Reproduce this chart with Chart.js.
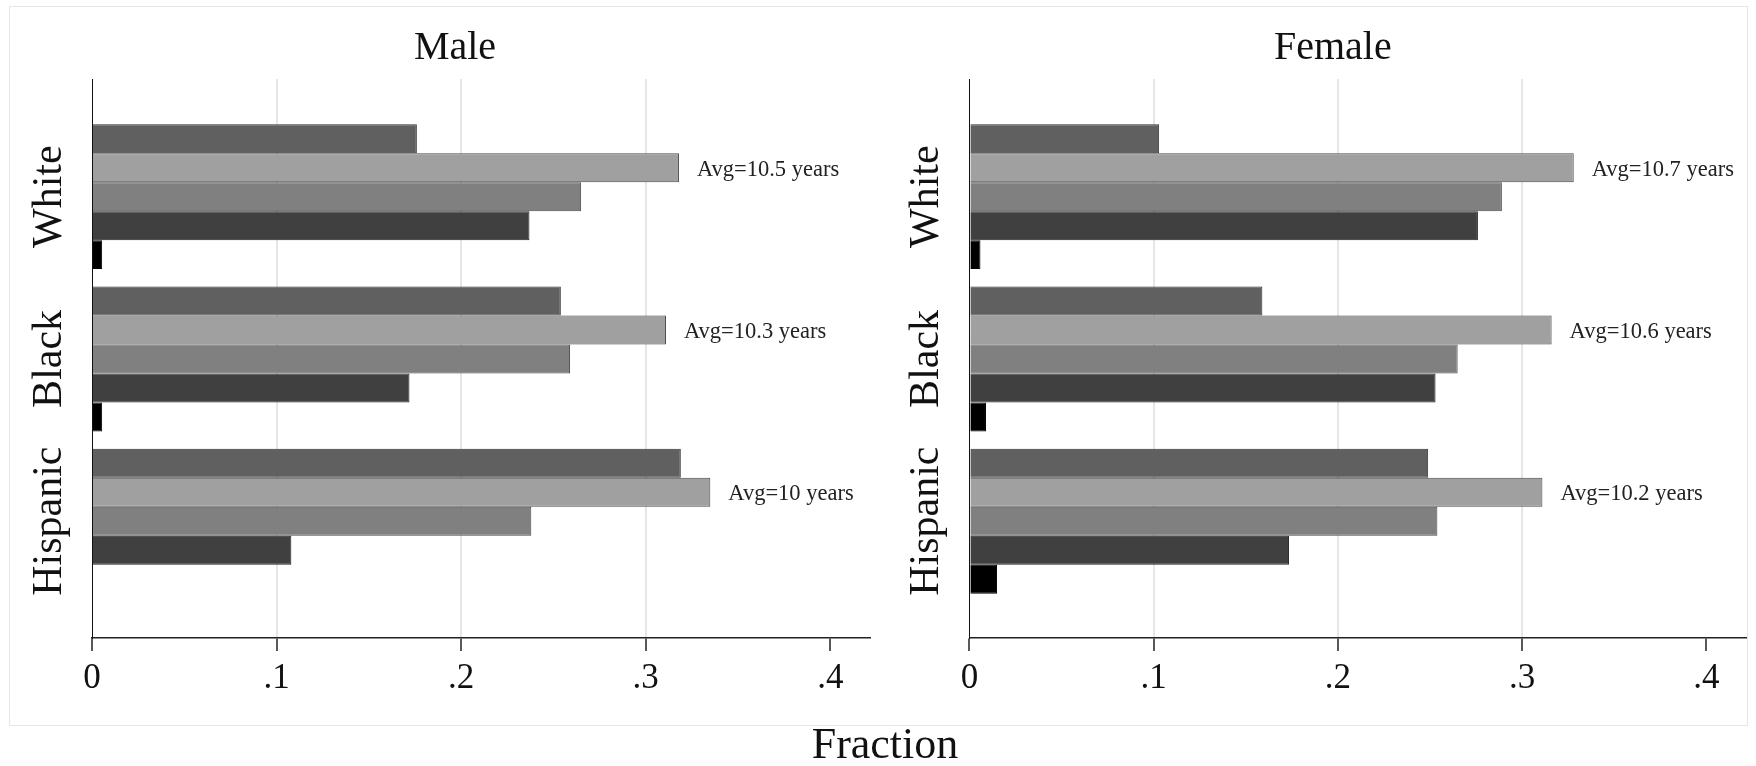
<!DOCTYPE html>
<html><head><meta charset="utf-8">
<script src="https://cdn.jsdelivr.net/npm/chart.js@4.4.1/dist/chart.umd.min.js"></script>
<style>
html,body{margin:0;padding:0;background:#fff;}
body{width:1756px;height:766px;position:relative;overflow:hidden;font-family:'Liberation Serif',serif;}
#frame{position:absolute;left:9px;top:6px;width:1737px;height:718px;border:1px solid #e6e6e6;}
canvas{position:absolute;top:0;}
#c1{left:0;} #c2{left:878px;}
#xtitle{position:absolute;left:685px;width:400px;text-align:center;top:722px;font-size:44px;line-height:44px;color:#111;}
</style></head><body>
<div id="frame"></div>
<canvas id="c1" width="880" height="766"></canvas>
<canvas id="c2" width="878" height="766"></canvas>
<div id="xtitle">Fraction</div>
<script>
// ---- data ----
const categories = ['White', 'Black', 'Hispanic'];
const categoryPositions = [0, 1, 2];
const panelTitles = ['Male', 'Female'];
const xTickValues = [0, 0.1, 0.2, 0.3, 0.4];
const xTickLabels = ['0', '.1', '.2', '.3', '.4'];
const seriesNames = ['Series 1', 'Series 2', 'Series 3', 'Series 4', 'Series 5'];

const maleS1 = [0.176, 0.254, 0.319];
const maleS2 = [0.318, 0.311, 0.335];
const maleS3 = [0.265, 0.259, 0.238];
const maleS4 = [0.237, 0.172, 0.108];
const maleS5 = [0.0055, 0.0055, 0];
const maleAvg = ['Avg=10.5 years', 'Avg=10.3 years', 'Avg=10 years'];

const femaleS1 = [0.103, 0.159, 0.249];
const femaleS2 = [0.328, 0.316, 0.311];
const femaleS3 = [0.289, 0.265, 0.254];
const femaleS4 = [0.276, 0.253, 0.1735];
const femaleS5 = [0.006, 0.009, 0.015];
const femaleAvg = ['Avg=10.7 years', 'Avg=10.6 years', 'Avg=10.2 years'];

// ---- styles ----
const seriesColors = ['#606060', '#a0a0a0', '#808080', '#404040', '#000000'];
const seriesBorders = ['#303030', '#474747', '#4a4a4a', '#202020', '#000000'];
const FONT = 'Liberation Serif';

const overlayPlugin = {
  id: 'overlay',
  afterDatasetsDraw(chart, args, opts) {
    const ctx = chart.ctx;
    const yScale = chart.scales.y;
    const area = chart.chartArea;
    ctx.save();
    ctx.font = '22.5px "' + FONT + '"';
    ctx.fillStyle = '#222';
    ctx.textAlign = 'left';
    ctx.textBaseline = 'middle';
    const meta = chart.getDatasetMeta(opts.avgSeries);
    meta.data.forEach((bar, i) => {
      ctx.fillText(opts.avgLabels[i], bar.x + 18, bar.y + 2);
    });
    ctx.font = '42px "' + FONT + '"';
    ctx.fillStyle = '#111';
    ctx.textAlign = 'center';
    opts.categories.forEach((c, i) => {
      const py = yScale.getPixelForValue(categoryPositions[i]);
      ctx.save();
      ctx.translate(area.left - 42, py);
      ctx.rotate(-Math.PI / 2);
      ctx.fillText(c, 0, 0);
      ctx.restore();
    });
    ctx.restore();
  }
};

function makeChart(id, title, series, avgLabels, padLeft, yWidth) {
  return new Chart(document.getElementById(id), {
    type: 'bar',
    data: {
      datasets: series.map((s, k) => ({
        label: seriesNames[k],
        data: s.map((v, i) => ({ x: v, y: categoryPositions[i] })),
        backgroundColor: seriesColors[k],
        borderColor: seriesBorders[k],
        borderWidth: 1,
        barPercentage: 1,
        categoryPercentage: 0.8934
      }))
    },
    options: {
      indexAxis: 'y',
      responsive: false,
      animation: false,
      devicePixelRatio: 1,
      layout: { padding: { left: padLeft, right: 10, top: 0, bottom: 0 } },
      plugins: {
        legend: { display: false },
        tooltip: { enabled: false },
        title: {
          display: true, text: title, color: '#111',
          font: { family: FONT, size: 40, weight: 'normal' },
          padding: { top: 24, bottom: 7 }
        },
        overlay: { categories: categories, avgLabels: avgLabels, avgSeries: 1 }
      },
      scales: {
        x: {
          type: 'linear', position: 'bottom', min: 0, max: 0.4215,
          afterBuildTicks: s => { s.ticks = xTickValues.map(v => ({ value: v })); },
          afterFit: s => { s.height = 128; },
          grid: {
            color: c => (c.tick && c.tick.value > 0.05 && c.tick.value < 0.35) ? '#e6e6e6' : 'rgba(0,0,0,0)',
            lineWidth: 2, tickColor: '#222', tickWidth: 1.5, tickLength: 13, drawTicks: true
          },
          border: { display: true, color: '#222', width: 1.5 },
          ticks: {
            callback: (v, i) => xTickLabels[i],
            font: { family: FONT, size: 35 }, color: '#111', padding: 7,
            maxRotation: 0, autoSkip: false
          }
        },
        y: {
          type: 'linear', reverse: true, offset: false, min: -0.725, max: 2.72,
          afterBuildTicks: s => { s.ticks = categoryPositions.map(v => ({ value: v })); },
          afterFit: s => { s.width = yWidth; },
          grid: { display: false, offset: false },
          border: { display: true, color: '#111', width: 1 },
          ticks: { display: false }
        }
      }
    },
    plugins: [overlayPlugin]
  });
}

makeChart('c1', panelTitles[0], [maleS1, maleS2, maleS3, maleS4, maleS5], maleAvg, 40, 52);
makeChart('c2', panelTitles[1], [femaleS1, femaleS2, femaleS3, femaleS4, femaleS5], femaleAvg, 41.6, 49.8);
</script>
</body></html>
